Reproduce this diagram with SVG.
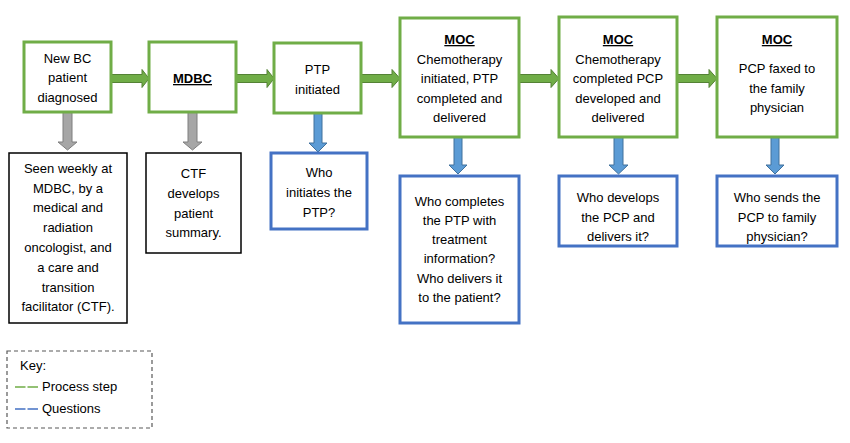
<svg xmlns="http://www.w3.org/2000/svg" width="850" height="443" viewBox="0 0 850 443">
<defs>
<style>
text{font-family:"Liberation Sans",Arial,sans-serif;font-size:13px;fill:#000;text-anchor:middle}
.b{font-weight:bold;text-decoration:underline}
.step{fill:#fff;stroke:#70ad47;stroke-width:3}
.q{fill:#fff;stroke:#4472c4;stroke-width:3}
.info{fill:#fff;stroke:#000;stroke-width:1.5}
.ga{fill:#70ad47;stroke:#548235;stroke-width:1}
.gr{fill:#a6a6a6;stroke:#7f7f7f;stroke-width:1}
.ba{fill:#5b9bd5;stroke:#41719c;stroke-width:1}
</style>
</defs>
<rect width="850" height="443" fill="#fff"/>
<g id="connectors">
<polygon class="ga" points="111,74.5 142,74.5 142,69.5 149,78.5 142,87.5 142,82.5 111,82.5"/>
<polygon class="ga" points="236,74.5 267,74.5 267,69.5 274,78.5 267,87.5 267,82.5 236,82.5"/>
<polygon class="ga" points="361,74.5 392,74.5 392,69.5 400,78.5 392,87.5 392,82.5 361,82.5"/>
<polygon class="ga" points="519,74.5 551,74.5 551,69.5 559,78.5 551,87.5 551,82.5 519,82.5"/>
<polygon class="ga" points="677,74.5 709,74.5 709,69.5 717,78.5 709,87.5 709,82.5 677,82.5"/>
<polygon class="gr" points="63,112 72,112 72,142 77,142 67.5,150 58,142 63,142"/>
<polygon class="gr" points="188,112 197,112 197,142 202,142 192.5,150 183,142 188,142"/>
<polygon class="ba" points="314,113 322,113 322,143 327,143 318,152 309,143 314,143"/>
<polygon class="ba" points="454,137 462,137 462,165 467,165 458,174 449,165 454,165"/>
<polygon class="ba" points="614,137 623,137 623,165 628,165 618.5,174 609,165 614,165"/>
<polygon class="ba" points="771,137 779,137 779,165 784,165 775,174 766,165 771,165"/>
</g>
<g id="n1">
<rect class="step" x="24" y="42" width="87" height="70"/>
<text x="67.5" y="63">New BC</text>
<text x="67.5" y="82">patient</text>
<text x="67.5" y="102">diagnosed</text>
</g>
<g id="n2">
<rect class="step" x="149" y="42" width="87" height="70"/>
<text class="b" x="192.5" y="83">MDBC</text>
</g>
<g id="n3">
<rect class="step" x="274" y="43" width="87" height="70"/>
<text x="317.5" y="74">PTP</text>
<text x="317.5" y="94">initiated</text>
</g>
<g id="n4">
<rect class="step" x="400" y="18" width="119" height="119"/>
<text class="b" x="459.5" y="44">MOC</text>
<text x="459.5" y="64">Chemotherapy</text>
<text x="459.5" y="83">initiated, PTP</text>
<text x="459.5" y="103">completed and</text>
<text x="459.5" y="122">delivered</text>
</g>
<g id="n5">
<rect class="step" x="559" y="17" width="118" height="120"/>
<text class="b" x="618" y="44">MOC</text>
<text x="618" y="64">Chemotherapy</text>
<text x="618" y="83">completed PCP</text>
<text x="618" y="103">developed and</text>
<text x="618" y="122">delivered</text>
</g>
<g id="n6">
<rect class="step" x="717" y="17" width="120" height="120"/>
<text class="b" x="777" y="44">MOC</text>
<text x="777" y="73">PCP faxed to</text>
<text x="777" y="93">the family</text>
<text x="777" y="112">physician</text>
</g>
<g id="i1">
<rect class="info" x="9" y="153" width="118" height="170"/>
<text x="68" y="173">Seen weekly at</text>
<text x="68" y="193">MDBC, by a</text>
<text x="68" y="212">medical and</text>
<text x="68" y="232">radiation</text>
<text x="68" y="252">oncologist, and</text>
<text x="68" y="272">a care and</text>
<text x="68" y="292">transition</text>
<text x="68" y="311">facilitator (CTF).</text>
</g>
<g id="i2">
<rect class="info" x="146" y="153" width="95" height="100"/>
<text x="193.5" y="178">CTF</text>
<text x="193.5" y="198">develops</text>
<text x="193.5" y="218">patient</text>
<text x="193.5" y="237">summary.</text>
</g>
<g id="q3">
<rect class="q" x="271" y="153" width="96" height="76"/>
<text x="319" y="177">Who</text>
<text x="319" y="197">initiates the</text>
<text x="319" y="217">PTP?</text>
</g>
<g id="q4">
<rect class="q" x="400" y="176" width="119" height="147"/>
<text x="459.5" y="206">Who completes</text>
<text x="459.5" y="225">the PTP with</text>
<text x="459.5" y="244">treatment</text>
<text x="459.5" y="263">information?</text>
<text x="459.5" y="283">Who delivers it</text>
<text x="459.5" y="302">to the patient?</text>
</g>
<g id="q5">
<rect class="q" x="559" y="176" width="118" height="70"/>
<text x="618" y="202">Who develops</text>
<text x="618" y="222">the PCP and</text>
<text x="618" y="241">delivers it?</text>
</g>
<g id="q6">
<rect class="q" x="717" y="176" width="120" height="70"/>
<text x="777" y="202">Who sends the</text>
<text x="777" y="222">PCP to family</text>
<text x="777" y="241">physician?</text>
</g>
<g id="key">
<rect x="7" y="351" width="145" height="77" fill="#fff" stroke="#595959" stroke-width="1.2" stroke-dasharray="4,3"/>
<text x="20" y="370" style="text-anchor:start">Key:</text>
<line x1="15" y1="387" x2="38" y2="387" stroke="#70ad47" stroke-width="1.5" stroke-dasharray="10.5,2"/>
<text x="42" y="391" style="text-anchor:start">Process step</text>
<line x1="15" y1="409" x2="38" y2="409" stroke="#4472c4" stroke-width="1.5" stroke-dasharray="10.5,2"/>
<text x="42" y="413" style="text-anchor:start">Questions</text>
</g>
</svg>
